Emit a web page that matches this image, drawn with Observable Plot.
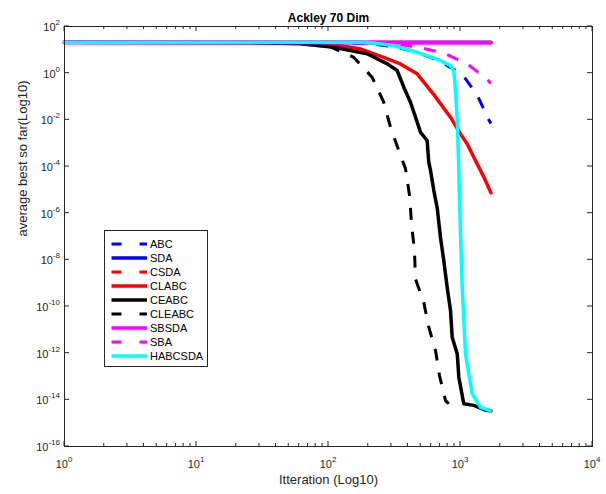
<!DOCTYPE html>
<html><head><meta charset="utf-8">
<script src="https://cdn.jsdelivr.net/npm/d3@7"></script>
<script src="https://cdn.jsdelivr.net/npm/@observablehq/plot@0.6"></script>
<style>body{margin:0;background:#fff;}</style>
</head><body><div id="chart"></div>
<script>
// ---- Data ----
const titleText = "Ackley 70 Dim";
const xLabelText = "Itteration (Log10)";
const yLabelText = "average best so far(Log10)";
const xTickExps = [0, 1, 2, 3, 4];
const yTickExps = [2, 0, -2, -4, -6, -8, -10, -12, -14, -16];

const legendNames = ["ABC", "SDA", "CSDA", "CLABC", "CEABC", "CLEABC", "SBSDA", "SBA", "HABCSDA"];

const abcIt  = [1, 100, 200, 300, 456, 681, 1035, 1345, 1602, 1700];
const abcVal = [21, 20.8, 19, 14, 8.5, 3.5, 0.88, 0.11, 0.0126, 0.0069];

const sdaIt  = [1, 1700];
const sdaVal = [20.9, 20.7];

const csdaIt  = [1, 1700];
const csdaVal = [20.9, 20.7];

const clabcIt  = [1, 40, 80, 110, 147, 175, 262, 351, 470, 628, 840, 1000, 1125, 1262, 1503, 1700];
const clabcVal = [21, 20.8, 19, 16, 13, 11, 4.8, 2.5, 0.94, 0.12, 0.013, 0.0025, 9.3e-4, 2.5e-4, 3.5e-5, 7.5e-6];

const ceabcIt  = [1, 25.6, 61, 110, 196, 279, 331, 372, 418, 470, 498, 559, 575, 593, 628, 666, 705, 747, 792, 840, 865, 945, 971, 1059, 1262, 1545, 1700];
const ceabcVal = [21, 20.4, 18.2, 13, 6.8, 2.5, 1.3, 0.25, 0.057, 0.0079, 0.0029, 0.0013, 1.5e-4, 6.8e-5, 9.3e-6, 1.7e-6, 9.3e-8, 9.3e-9, 6.8e-10, 6.8e-11, 4.8e-12, 9.3e-13, 9.3e-14, 6.8e-15, 5.8e-15, 3.6e-15, 3.4e-15];

const cleabcIt  = [1, 51.5, 98, 155, 214, 262, 295, 341, 383, 413, 425, 448, 456, 527, 575, 647, 693, 770, 815];
const cleabcVal = [21, 20.4, 15.3, 4.8, 0.67, 0.057, 0.0048, 4.8e-4, 8.1e-5, 4.8e-6, 3.6e-7, 2.5e-8, 1.5e-9, 1.5e-10, 1.3e-11, 1.3e-12, 1.1e-13, 9.3e-15, 6.8e-15];

const sbsdaIt  = [1, 1700];
const sbsdaVal = [20.8, 20.6];

const sbaIt  = [1, 150, 300, 456, 743, 1130, 1602, 1700];
const sbaVal = [21, 20.8, 18, 13.9, 7.3, 2.47, 0.54, 0.36];

const habcsdaIt  = [1, 100, 196, 311, 470, 705, 840, 890, 917, 945, 971, 988, 1030, 1091, 1227, 1419, 1680];
const habcsdaVal = [21.3, 21.3, 21.2, 15.4, 7.9, 3.5, 2.1, 1.3, 0.18, 0.0093, 6.8e-5, 1.3e-6, 6.8e-10, 9.3e-13, 1.8e-14, 4.8e-15, 3.5e-15];

const colors = {blue: "#0000ff", red: "#ff0000", black: "#000000", magenta: "#ff00ff", cyan: "#00ffff"};

const series = [
  {name: "ABC", it: abcIt, val: abcVal, color: colors.blue, dash: true},
  {name: "SDA", it: sdaIt, val: sdaVal, color: colors.blue, dash: false},
  {name: "CSDA", it: csdaIt, val: csdaVal, color: colors.red, dash: true},
  {name: "CLABC", it: clabcIt, val: clabcVal, color: colors.red, dash: false},
  {name: "CEABC", it: ceabcIt, val: ceabcVal, color: colors.black, dash: false},
  {name: "CLEABC", it: cleabcIt, val: cleabcVal, color: colors.black, dash: true},
  {name: "SBSDA", it: sbsdaIt, val: sbsdaVal, color: colors.magenta, dash: false, width: 4.2},
  {name: "SBA", it: sbaIt, val: sbaVal, color: colors.magenta, dash: true},
  {name: "HABCSDA", it: habcsdaIt, val: habcsdaVal, color: colors.cyan, dash: false}
];

// ---- Plot ----
const W = 606, H = 494;
const mLeft = 64, mRight = 14, mTop = 26, mBottom = 48;
const ink = "#262626";
const fontFam = "'Liberation Sans', Arial, sans-serif";

const marks = [];
for (const s of series) {
  const rows = s.it.map((x, i) => ({x, y: s.val[i]}));
  marks.push(Plot.line(rows, {
    x: "x", y: "y", stroke: s.color,
    strokeWidth: s.width ?? (s.dash ? 3 : 3.5),
    strokeDasharray: s.dash ? "12,12" : null,
    strokeLinecap: s.dash ? "butt" : "round",
    strokeLinejoin: "round"
  }));
}
marks.push(Plot.frame({stroke: ink, strokeWidth: 1}));
marks.push(Plot.text([titleText], {text: d => d, frameAnchor: "top", dy: -13, fontWeight: "bold", fontSize: 12, fill: "#000"}));
marks.push(Plot.text([xLabelText], {text: d => d, frameAnchor: "bottom", dy: 37, fontSize: 13, fill: ink}));
marks.push(Plot.text([yLabelText], {text: d => d, frameAnchor: "left", dx: -42, rotate: -90, fontSize: 13, fill: ink}));

const plot = Plot.plot({
  width: W, height: H,
  marginLeft: mLeft, marginRight: mRight, marginTop: mTop, marginBottom: mBottom,
  x: {type: "log", domain: [1, 1e4], axis: null},
  y: {type: "log", domain: [1e-16, 1e2], axis: null},
  style: {fontFamily: fontFam, fontSize: "11px", background: "#fff", color: ink},
  marks
});
document.getElementById("chart").appendChild(plot);

// ---- Axes ticks and labels (MATLAB style, inward ticks on all sides) ----
const sx = plot.scale("x"), sy = plot.scale("y");
const svg = d3.select(plot);
const gx = svg.append("g").attr("stroke", ink).attr("stroke-width", 1);
const x0 = sx.apply(1), x1 = sx.apply(1e4), yTop = sy.apply(1e2), yBot = sy.apply(1e-16);

// x ticks
for (const e of xTickExps) {
  const px = sx.apply(Math.pow(10, e));
  gx.append("line").attr("x1", px).attr("x2", px).attr("y1", yBot).attr("y2", yBot - 5);
  gx.append("line").attr("x1", px).attr("x2", px).attr("y1", yTop).attr("y2", yTop + 5);
  if (e < 4) {
    for (let k = 2; k <= 9; k++) {
      const pm = sx.apply(k * Math.pow(10, e));
      gx.append("line").attr("x1", pm).attr("x2", pm).attr("y1", yBot).attr("y2", yBot - 3);
      gx.append("line").attr("x1", pm).attr("x2", pm).attr("y1", yTop).attr("y2", yTop + 3);
    }
  }
  const t = svg.append("text").attr("x", px).attr("y", yBot + 22)
    .attr("text-anchor", "middle").attr("fill", ink)
    .attr("font-family", fontFam).attr("font-size", 11);
  t.append("tspan").text("10");
  t.append("tspan").attr("dy", -6).attr("font-size", 8).text(String(e));
}
// y ticks
for (const e of yTickExps) {
  const py = sy.apply(Math.pow(10, e));
  gx.append("line").attr("x1", x0).attr("x2", x0 + 5).attr("y1", py).attr("y2", py);
  gx.append("line").attr("x1", x1).attr("x2", x1 - 5).attr("y1", py).attr("y2", py);
  const t = svg.append("text").attr("x", x0 - 4).attr("y", py + 5)
    .attr("text-anchor", "end").attr("fill", ink)
    .attr("font-family", fontFam).attr("font-size", 11);
  t.append("tspan").text("10");
  t.append("tspan").attr("dy", -6).attr("font-size", 8).text(e < 0 ? "-" + Math.abs(e) : String(e));
}

// ---- Legend ----
const lg = svg.append("g");
const lx = 104.5, ly = 230.5, lw = 103, lh = 136;
lg.append("rect").attr("x", lx).attr("y", ly).attr("width", lw).attr("height", lh)
  .attr("fill", "#fff").attr("stroke", ink).attr("stroke-width", 1);
series.forEach((s, i) => {
  const yy = 244 + i * 14;
  lg.append("line").attr("x1", 111.5).attr("x2", 147).attr("y1", yy).attr("y2", yy)
    .attr("stroke", s.color).attr("stroke-width", s.dash ? 3 : 3.5)
    .attr("stroke-dasharray", s.dash ? "10,18" : null);
  lg.append("text").attr("x", 150).attr("y", yy + 4).attr("fill", "#000")
    .attr("text-anchor", "start")
    .attr("font-family", fontFam).attr("font-size", 11)
    .text(legendNames[i]);
});
</script>
</body></html>
